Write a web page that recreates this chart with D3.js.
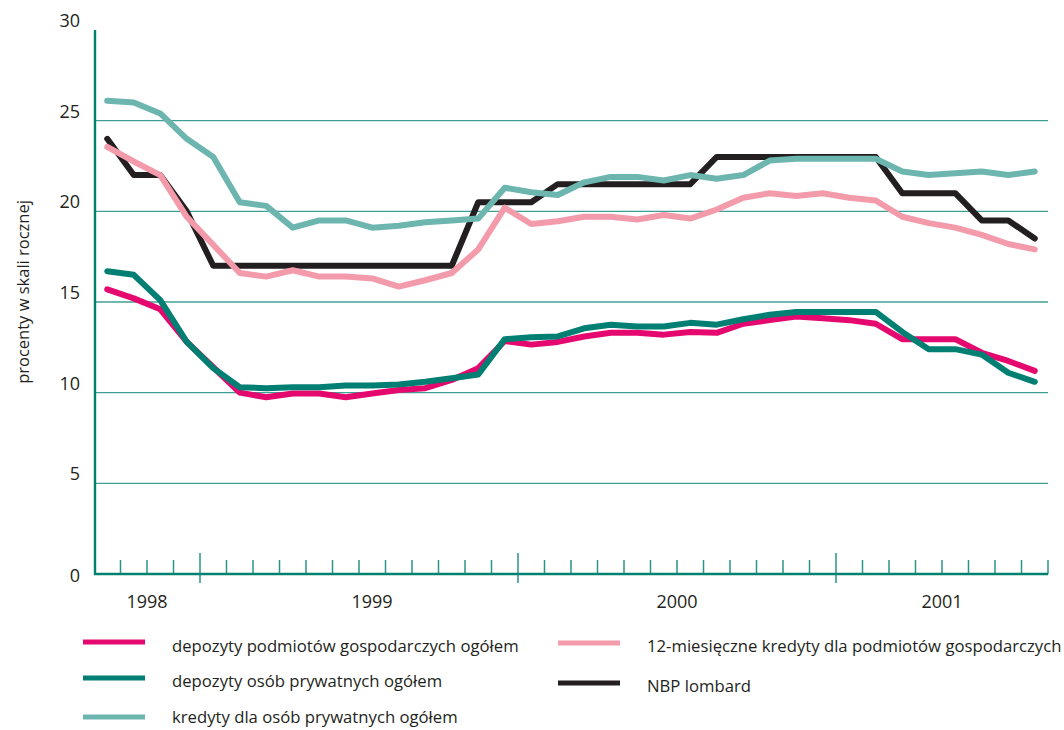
<!DOCTYPE html>
<html>
<head>
<meta charset="utf-8">
<script src="https://cdn.jsdelivr.net/npm/d3@7"></script>
<style>
  html, body { margin: 0; padding: 0; background: #fff; }
  svg { display: block; }
  text { font-family: "Open Sans", "DejaVu Sans", sans-serif; fill: #231f20; }
</style>
</head>
<body>
<svg id="chart" width="1064" height="730"></svg>
<script>
// ---- data ----
const months = [
  "1998-09","1998-10","1998-11","1998-12",
  "1999-01","1999-02","1999-03","1999-04","1999-05","1999-06","1999-07","1999-08","1999-09","1999-10","1999-11","1999-12",
  "2000-01","2000-02","2000-03","2000-04","2000-05","2000-06","2000-07","2000-08","2000-09","2000-10","2000-11","2000-12",
  "2001-01","2001-02","2001-03","2001-04","2001-05","2001-06","2001-07","2001-08"
];
const years = ["1998", "1999", "2000", "2001"];
const yTicks = [0, 5, 10, 15, 20, 25, 30];

const depozytyPodmiotow = [15.7, 15.2, 14.6, 12.8, 11.4, 10.0, 9.75, 9.95, 9.95, 9.75, 9.95, 10.15, 10.25, 10.7, 11.35,
  12.85, 12.65, 12.8, 13.1, 13.3, 13.3, 13.2, 13.35, 13.3, 13.8, 14.0, 14.2, 14.1, 14.0, 13.8,
  12.95, 12.95, 12.95, 12.2, 11.75, 11.2];
const depozytyOsob = [16.7, 16.5, 15.1, 12.8, 11.35, 10.3, 10.25, 10.3, 10.3, 10.4, 10.4, 10.45, 10.6, 10.8, 11.0,
  12.95, 13.05, 13.1, 13.55, 13.75, 13.65, 13.65, 13.85, 13.75, 14.05, 14.3, 14.45, 14.45, 14.45, 14.45,
  13.35, 12.4, 12.4, 12.1, 11.1, 10.6];
const kredytyOsob = [26.1, 26.0, 25.4, 24.0, 23.0, 20.5, 20.3, 19.1, 19.5, 19.5, 19.1, 19.2, 19.4, 19.5, 19.6,
  21.3, 21.05, 20.9, 21.6, 21.9, 21.9, 21.7, 22.0, 21.8, 22.0, 22.8, 22.9, 22.9, 22.9, 22.9,
  22.2, 22.0, 22.1, 22.2, 22.0, 22.2];
const kredyty12m = [23.55, 22.75, 22.0, 19.7, 18.15, 16.6, 16.4, 16.75, 16.4, 16.4, 16.3, 15.85, 16.2, 16.6, 17.9,
  20.2, 19.3, 19.45, 19.7, 19.7, 19.55, 19.8, 19.6, 20.1, 20.75, 21.0, 20.85, 21.0, 20.75, 20.6,
  19.7, 19.35, 19.1, 18.7, 18.2, 17.9];
const lombard = [24.0, 22.0, 22.0, 20.0, 17.0, 17.0, 17.0, 17.0, 17.0, 17.0, 17.0, 17.0, 17.0, 17.0, 20.5,
  20.5, 20.5, 21.5, 21.5, 21.5, 21.5, 21.5, 21.5, 23.0, 23.0, 23.0, 23.0, 23.0, 23.0, 23.0,
  21.0, 21.0, 21.0, 19.5, 19.5, 18.5];

const seriesNames = [
  "depozyty podmiotów gospodarczych ogółem",
  "depozyty osób prywatnych ogółem",
  "kredyty dla osób prywatnych ogółem",
  "12-miesięczne kredyty dla podmiotów gospodarczych",
  "NBP lombard"
];
const seriesValues = [depozytyPodmiotow, depozytyOsob, kredytyOsob, kredyty12m, lombard];
const seriesColors = ["#e5096f", "#007f72", "#6cb6af", "#f49bab", "#231f20"];

// ---- layout ----
const svg = d3.select("#chart");
const x = d3.scaleBand().domain(months).range([94, 1048]).padding(0);
const y = d3.scaleLinear().domain([0, 30]).range([574, 30]);
const bw = x.bandwidth();
const axisColor = "#00806f";
const gridColor = "#3f9f95";

// gridlines
svg.append("g").selectAll("line")
  .data(yTicks.filter(d => d > 0 && d < 30))
  .join("line")
  .attr("x1", 95).attr("x2", 1048)
  .attr("y1", d => y(d)).attr("y2", d => y(d))
  .attr("stroke", gridColor).attr("stroke-width", 1.3);

// y tick labels
svg.append("g").selectAll("text")
  .data(yTicks)
  .join("text")
  .attr("x", 80)
  .attr("y", d => d === 0 ? y(d) + 8 : y(d) - 3)
  .attr("text-anchor", "end")
  .attr("font-size", 18)
  .text(d => d);

// y axis title
svg.append("text")
  .attr("transform", "translate(29,292) rotate(-90)")
  .attr("text-anchor", "middle")
  .attr("font-size", 16.5)
  .text("procenty w skali rocznej");

// x ticks (month boundaries)
const boundaries = d3.range(1, months.length + 1);
svg.append("g").selectAll("line")
  .data(boundaries)
  .join("line")
  .attr("x1", k => x.range()[0] + k * bw)
  .attr("x2", k => x.range()[0] + k * bw)
  .attr("y1", k => {
    const m = months[k];
    return (m && m.endsWith("-01")) ? 553 : 560;
  })
  .attr("y2", k => {
    const m = months[k];
    return (m && m.endsWith("-01")) ? 583 : 574;
  })
  .attr("stroke", "#2a9488").attr("stroke-width", 1.5);

// axes lines
svg.append("line").attr("x1", 95).attr("x2", 95).attr("y1", y(30)).attr("y2", y(0) + 1)
  .attr("stroke", axisColor).attr("stroke-width", 2.4);
svg.append("line").attr("x1", 94).attr("x2", 1048).attr("y1", y(0)).attr("y2", y(0))
  .attr("stroke", axisColor).attr("stroke-width", 2.4);

// year labels
const yearNudge = { "1999": 13 };
svg.append("g").selectAll("text")
  .data(years)
  .join("text")
  .attr("x", yr => {
    const ms = months.filter(m => m.startsWith(yr));
    const a = x(ms[0]), b = x(ms[ms.length - 1]) + bw;
    return (a + b) / 2 + (yearNudge[yr] || 0);
  })
  .attr("y", 608)
  .attr("text-anchor", "middle")
  .attr("font-size", 18)
  .text(d => d);

// lines
const line = d3.line()
  .x((d, i) => x(months[i]) + bw / 2)
  .y(d => y(d));
const drawOrder = [4, 3, 2, 0, 1];
svg.append("g").selectAll("path")
  .data(drawOrder)
  .join("path")
  .attr("d", s => line(seriesValues[s]))
  .attr("fill", "none")
  .attr("stroke", s => seriesColors[s])
  .attr("stroke-width", 6)
  .attr("stroke-linejoin", "round")
  .attr("stroke-linecap", "round");

// legend
const legendItems = [
  { s: 0, lx: 83, ly: 642, ty: 652 },
  { s: 1, lx: 83, ly: 678, ty: 687 },
  { s: 2, lx: 83, ly: 717, ty: 723 },
  { s: 3, lx: 558, ly: 643, ty: 652 },
  { s: 4, lx: 558, ly: 683, ty: 692 }
];
const lg = svg.append("g");
legendItems.forEach(it => {
  lg.append("line")
    .attr("x1", it.lx).attr("x2", it.lx + 62)
    .attr("y1", it.ly).attr("y2", it.ly)
    .attr("stroke", seriesColors[it.s]).attr("stroke-width", 5);
  lg.append("text")
    .attr("x", it.lx + 89).attr("y", it.ty)
    .attr("font-size", 16.7)
    .text(seriesNames[it.s]);
});
</script>
</body>
</html>
